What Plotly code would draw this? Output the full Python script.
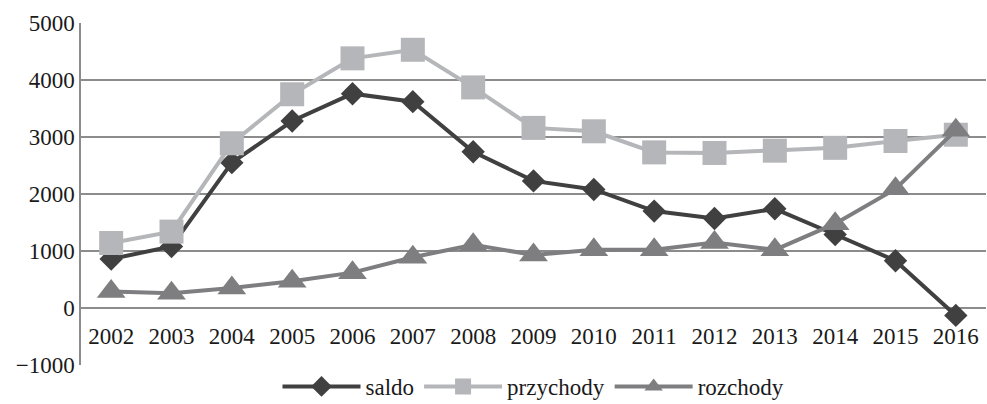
import plotly.graph_objects as go

years = ["2002", "2003", "2004", "2005", "2006", "2007", "2008", "2009",
         "2010", "2011", "2012", "2013", "2014", "2015", "2016"]
saldo = [860, 1080, 2550, 3280, 3760, 3620, 2740, 2230, 2080, 1700, 1570, 1740, 1290, 830, -130]
przychody = [1140, 1340, 2890, 3750, 4380, 4530, 3870, 3160, 3100, 2730, 2720, 2760, 2810, 2930, 3040]
rozchody = [290, 260, 350, 470, 620, 890, 1110, 930, 1020, 1020, 1150, 1020, 1480, 2090, 3120]
y_ticks = [-1000, 0, 1000, 2000, 3000, 4000, 5000]

FONT = "Liberation Serif"
GRID = "#8c8c8c"
TXT = "#1a1a1a"

fig = go.Figure()
fig.add_trace(go.Scatter(
    x=years, y=saldo, name="saldo", mode="lines+markers",
    line=dict(color="#404040", width=4),
    marker=dict(symbol="diamond", size=18, color="#404040"),
))
fig.add_trace(go.Scatter(
    x=years, y=przychody, name="przychody", mode="lines+markers",
    line=dict(color="#b5b6b9", width=4),
    marker=dict(symbol="square", size=24, color="#b5b6b9"),
))
fig.add_trace(go.Scatter(
    x=years, y=rozchody, name="rozchody", mode="lines+markers",
    line=dict(color="#7e7e80", width=4),
    marker=dict(symbol="triangle-up", size=25, color="#7e7e80"),
))

fig.update_layout(
    width=987, height=404,
    margin=dict(l=81, r=1, t=23, b=39, autoexpand=False),
    paper_bgcolor="white", plot_bgcolor="white",
    font=dict(family=FONT, size=23, color=TXT),
    showlegend=True,
    legend=dict(orientation="h", x=0.5, xanchor="center", y=0.0, yanchor="top",
                font=dict(family=FONT, size=23, color=TXT),
                itemwidth=78, tracegroupgap=0),
    xaxis=dict(type="category", categoryorder="array", categoryarray=years,
               range=[-0.5, 14.5], anchor="free", position=1/6, automargin=False,
               showgrid=False, showline=False, zeroline=False, ticks="", ticklen=0,
               ticklabelstandoff=12,
               tickfont=dict(family=FONT, size=23, color=TXT)),
    yaxis=dict(range=[-1000, 5000], tickvals=y_ticks, domain=[0, 1], automargin=False,
               showgrid=True, gridcolor=GRID, gridwidth=1.5,
               showline=True, linecolor=GRID, linewidth=1.5,
               zeroline=False, ticks="", ticklen=0, ticklabelstandoff=0,
               tickfont=dict(family=FONT, size=23, color=TXT)),
)

fig.write_html("out.html", config={"displayModeBar": False},
               post_script="document.body.style.margin='0';")
